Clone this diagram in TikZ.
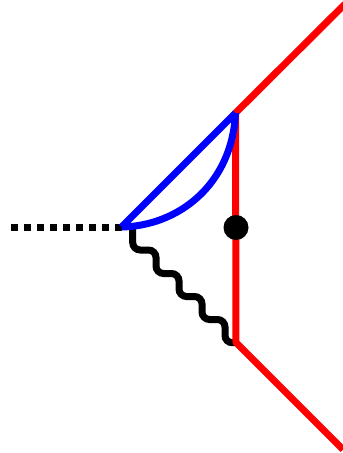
\documentclass[tikz,border=0pt]{standalone}
\begin{document}
\begin{tikzpicture}[x=1pt,y=-1pt,
  thick line/.style={line width=7pt},
  redline/.style={thick line,draw={rgb,255:red,255;green,0;blue,0},line join=round},
  blueline/.style={thick line,draw={rgb,255:red,0;green,0;blue,255}},
  dotline/.style={thick line,draw=black,dash pattern=on 6.5pt off 6.5pt},
  wave/.style={thick line,draw=black,rounded corners=7.5pt},
  blob/.style={circle,fill=black,inner sep=0pt,minimum size=25pt}]
\useasboundingbox (0,0) rectangle (343,453);
\coordinate (vertex) at (121.5,227);
\coordinate (dotend) at (10.5,227);
\coordinate (top) at (235.5,113);
\coordinate (bottom) at (236,342.5);
\coordinate (topend) at (345,4);
\coordinate (botend) at (343,449.5);
\coordinate (wavestart) at (132.7,229);
\coordinate (mid) at (236,227.5);
\draw[dotline] (vertex) -- (dotend);
\draw[wave] (wavestart) -- (132.7,250) -- (156,250) -- (156,273.5) -- (179,273.5) -- (179,296.5) -- (202,296.5) -- (202,319.5) -- (225,319.5) -- (225,343) -- (bottom);
\draw[redline] (topend) -- (top) -- (bottom) -- (botend);
\draw[blueline] (vertex) -- (top);
\draw[blueline] (vertex) .. controls (178,226) and (232,185) .. (top);
\node[blob] (dot) at (mid) {};
\end{tikzpicture}
\end{document}
